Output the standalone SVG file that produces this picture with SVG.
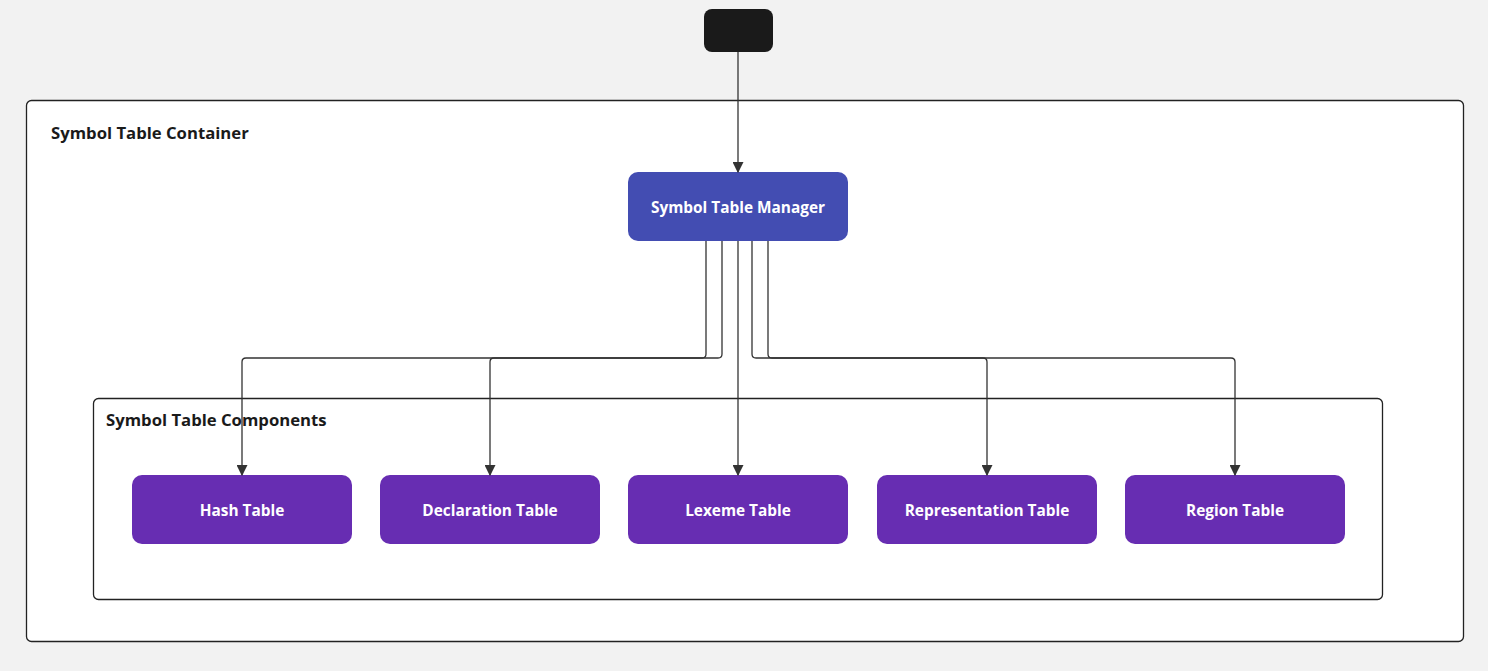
<svg xmlns="http://www.w3.org/2000/svg" width="1488" height="671" viewBox="0 0 1488 671">
<style>
.container{fill:#ffffff;stroke:#222222;stroke-width:1.3}
.ctitle{font-family:"Open Sans","Noto Sans",sans-serif;font-weight:700;font-size:16.7px;fill:#1a1a1a}
.node{fill:#672db2}
.mgr{fill:#434db2}
.label{font-family:"Open Sans","Noto Sans",sans-serif;font-weight:700;font-size:15.4px;fill:#ffffff;text-anchor:middle;dominant-baseline:central}
.edge{fill:none;stroke:#333333;stroke-width:1.3;marker-end:url(#arrow)}
</style>
<defs>
<marker id="arrow" viewBox="0 0 10 10" refX="9" refY="5" markerWidth="11" markerHeight="11" markerUnits="userSpaceOnUse" orient="auto">
<path d="M0,0 L10,5 L0,10 Z" fill="#333333"/>
</marker>
</defs>
<rect x="0" y="0" width="1488" height="671" fill="#f2f2f2"/>
<g id="container-outer">
<rect class="container" x="26.5" y="100.5" width="1437" height="541" rx="5"/>
<text class="ctitle" x="51" y="139">Symbol Table Container</text>
</g>
<g id="container-inner">
<rect class="container" x="93.5" y="398.5" width="1289" height="201" rx="5"/>
<text class="ctitle" x="106" y="426">Symbol Table Components</text>
</g>
<g id="start">
<rect x="704" y="9" width="69" height="43" rx="8" fill="#1a1a1a"/>
</g>
<g id="manager">
<rect class="mgr" x="628" y="172" width="220" height="69" rx="10"/>
<text class="label" x="738" y="207">Symbol Table Manager</text>
</g>
<g id="hash">
<rect class="node" x="132" y="475" width="220" height="69" rx="10"/>
<text class="label" x="242" y="510">Hash Table</text>
</g>
<g id="declaration">
<rect class="node" x="380" y="475" width="220" height="69" rx="10"/>
<text class="label" x="490" y="510">Declaration Table</text>
</g>
<g id="lexeme">
<rect class="node" x="628" y="475" width="220" height="69" rx="10"/>
<text class="label" x="738" y="510">Lexeme Table</text>
</g>
<g id="representation">
<rect class="node" x="877" y="475" width="220" height="69" rx="10"/>
<text class="label" x="987" y="510">Representation Table</text>
</g>
<g id="region">
<rect class="node" x="1125" y="475" width="220" height="69" rx="10"/>
<text class="label" x="1235" y="510">Region Table</text>
</g>
<g id="connectors">
<path class="edge" d="M738,52 L738,172"/>
<path class="edge" d="M706,241 L706,354 Q706,358 702,358 L246,358 Q242,358 242,362 L242,475"/>
<path class="edge" d="M722,241 L722,354 Q722,358 718,358 L494,358 Q490,358 490,362 L490,475"/>
<path class="edge" d="M738,241 L738,475"/>
<path class="edge" d="M752,241 L752,354 Q752,358 756,358 L983,358 Q987,358 987,362 L987,475"/>
<path class="edge" d="M768,241 L768,354 Q768,358 772,358 L1231,358 Q1235,358 1235,362 L1235,475"/>
</g>
</svg>
